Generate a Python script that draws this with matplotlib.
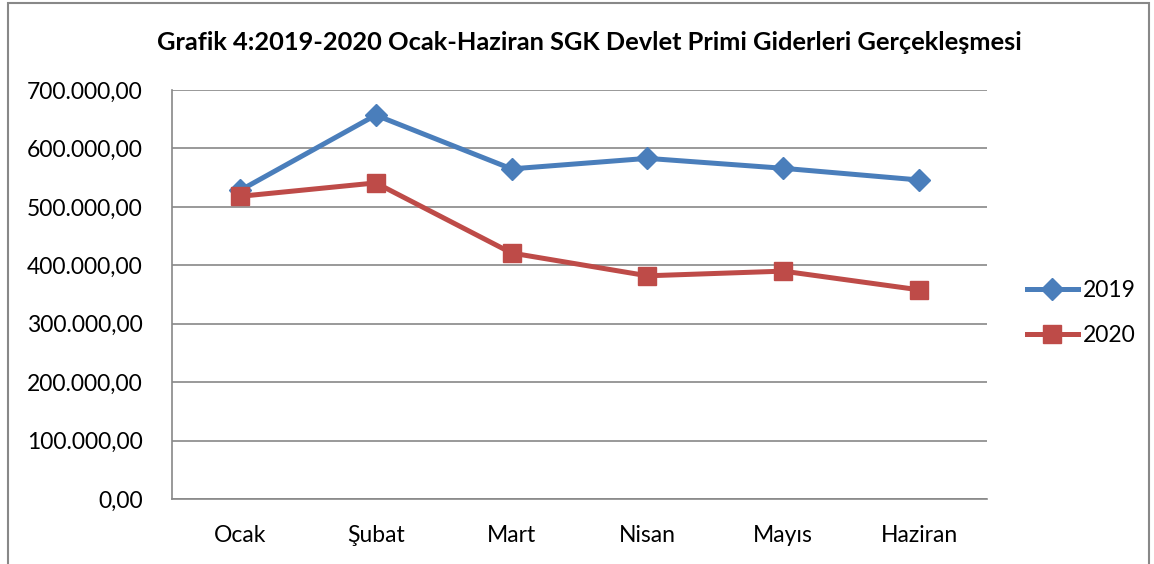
import matplotlib
matplotlib.use("Agg")
import matplotlib.pyplot as plt
from matplotlib.ticker import FuncFormatter

months = ["Ocak", "Şubat", "Mart", "Nisan", "Mayıs", "Haziran"]
values_2019 = [528000, 657000, 565000, 583000, 566000, 546000]
values_2020 = [518000, 541000, 421000, 382000, 390000, 358000]
series_labels = ["2019", "2020"]

plt.rcParams["font.family"] = ["Lato", "DejaVu Sans"]

fig = plt.figure(figsize=(11.54, 5.64), dpi=100)
ax = fig.add_axes([172/1154, 1-499/564, (987-172)/1154, (499-90)/564])

x = list(range(len(months)))
ax.plot(x, values_2019, color="#4A7EBB", lw=3.6, marker="D", ms=11, label=series_labels[0], zorder=3)
ax.plot(x, values_2020, color="#BE4B48", lw=3.6, marker="s", ms=13.5, label=series_labels[1], zorder=4)

ax.set_xlim(-0.5, 5.5)
ax.set_ylim(0, 700000)
ax.set_yticks(range(0, 700001, 100000))
def fmt(v, pos):
    s = f"{int(v):,}".replace(",", ".")
    return s + ",00"
ax.yaxis.set_major_formatter(FuncFormatter(fmt))
ax.set_xticks(x)
ax.set_xticklabels(months)
ax.tick_params(axis="both", labelsize=16.5, length=0, colors="black")
ax.tick_params(axis="y", pad=21)
ax.tick_params(axis="x", pad=19)
ax.grid(axis="y", color="#888888", lw=1.2)
ax.set_axisbelow(True)
for s in ["top", "right"]:
    ax.spines[s].set_visible(False)
for s in ["left", "bottom"]:
    ax.spines[s].set_color("#888888")
    ax.spines[s].set_linewidth(1.2)

fig.text(589/1154, 1-42/564, "Grafik 4:2019-2020 Ocak-Haziran SGK Devlet Primi Giderleri Gerçekleşmesi",
         ha="center", va="center", fontsize=18.3, fontweight="bold")

leg = fig.legend(loc="center left", bbox_to_anchor=(1018/1154, 1-313/564), frameon=False,
                 fontsize=16.5, handlelength=2.2, labelspacing=1.05, handletextpad=0.25,
                 borderaxespad=0, borderpad=0.4)

# outer frame
fig.patches.append(plt.Rectangle((8/1154, -0.01), (1149-8)/1154, 1-3/564+0.01, transform=fig.transFigure,
                                 fill=False, edgecolor="#888888", lw=1.5))

fig.savefig("out.png", dpi=100)
